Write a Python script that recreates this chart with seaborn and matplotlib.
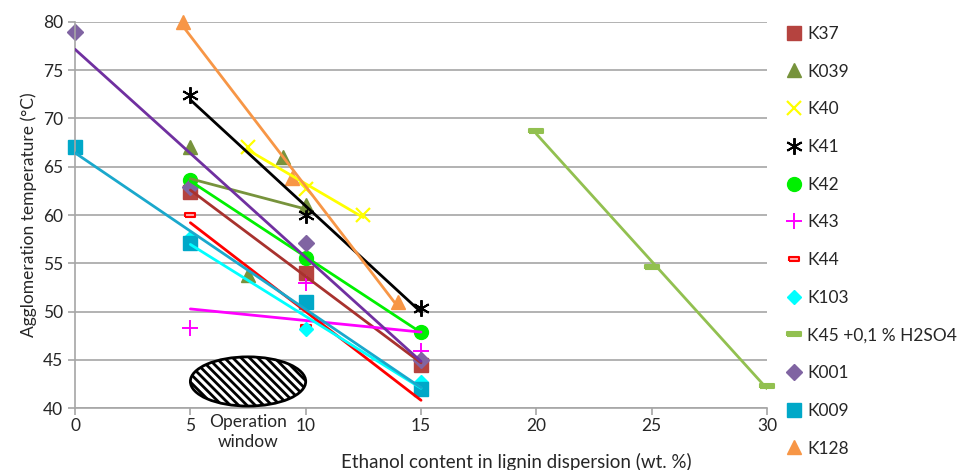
#!/usr/bin/env python3
"""Agglomeration temperature vs ethanol content, with linear trend lines."""
import matplotlib
matplotlib.use("Agg")
import matplotlib.pyplot as plt
from matplotlib.patches import Ellipse
import seaborn as sns

# ethanol content (wt. %) and agglomeration temperature (degC) per sample
k37_x = [5, 10, 15]
k37_y = [62.4, 54.0, 44.5]
k039_x = [5, 7.5, 9, 10]
k039_y = [67.0, 53.8, 66.0, 61.0]
k40_x = [7.5, 10, 12.5]
k40_y = [67.0, 62.7, 60.0]
k41_x = [5, 10, 15]
k41_y = [72.4, 60.0, 50.4]
k42_x = [5, 10, 15]
k42_y = [63.6, 55.5, 47.9]
k43_x = [5, 10, 15]
k43_y = [48.3, 53.0, 45.9]
k44_x = [5, 10, 15]
k44_y = [60.0, 48.4, 41.6]
k103_x = [5, 10, 15]
k103_y = [57.6, 48.2, 42.7]
k45_x = [20, 25, 30]
k45_y = [68.7, 54.6, 42.3]
k001_x = [0, 5, 10, 15]
k001_y = [79.0, 62.9, 57.1, 45.0]
k009_x = [0, 5, 10, 15]
k009_y = [67.0, 57.1, 51.0, 42.0]
k128_x = [4.7, 9.4, 14.0]
k128_y = [80.0, 63.8, 51.0]

x_ticks = [0, 5, 10, 15, 20, 25, 30]
y_ticks = [40, 45, 50, 55, 60, 65, 70, 75, 80]

dash_small = [(-1, -0.45), (1, -0.45), (1, 0.45), (-1, 0.45), (-1, -0.45)]
dash_thin = [(-1, -0.25), (1, -0.25), (1, 0.25), (-1, 0.25), (-1, -0.25)]

# label, x, y, marker style, trend line colour
series = [
    ("K37", k37_x, k37_y, dict(marker="s", ms=10, mfc="#B5433F", mec="#B5433F"), "#A8322E"),
    ("K039", k039_x, k039_y, dict(marker="^", ms=10, mfc="#77933C", mec="#77933C"), "#77933C"),
    ("K40", k40_x, k40_y, dict(marker="x", ms=10, mec="#FFFF00", mew=1.6), "#FFFF00"),
    ("K41", k41_x, k41_y, dict(marker=(6, 2, 0), ms=12, mec="black", mew=1.4), "black"),
    ("K42", k42_x, k42_y, dict(marker="o", ms=10, mfc="#00F000", mec="#00F000"), "#00F000"),
    ("K43", k43_x, k43_y, dict(marker="+", ms=11, mec="#FF00FF", mew=1.4), "#FF00FF"),
    ("K44", k44_x, k44_y, dict(marker=dash_small, ms=7, mfc="#FFB0B0", mec="#FF0000", mew=1.5), "#FF0000"),
    ("K103", k103_x, k103_y, dict(marker="D", ms=7, mfc="#00FFFF", mec="#00FFFF"), "#00FFFF"),
    ("K45 +0,1 % H2SO4", k45_x, k45_y, dict(marker=dash_thin, ms=10, mfc="#92C050", mec="#92C050", mew=1.5), "#92C050"),
    ("K001", k001_x, k001_y, dict(marker="D", ms=8, mfc="#8064A2", mec="#8064A2"), "#7030A0"),
    ("K009", k009_x, k009_y, dict(marker="s", ms=10, mfc="#00A8C8", mec="#00A8C8"), "#1AA8CC"),
    ("K128", k128_x, k128_y, dict(marker="^", ms=10, mfc="#F79646", mec="#F79646"), "#F79646"),
]

sns.set_style("white")
plt.rcParams["font.family"] = ["Lato", "DejaVu Sans"]
plt.rcParams["hatch.linewidth"] = 2.0

fig = plt.figure(figsize=(9.57, 4.7), dpi=100)
ax = fig.add_axes([0.0784, 0.1319, 0.7231, 0.8213])

handles = []
for label, xs, ys, style, line_color in series:
    sns.regplot(x=xs, y=ys, ax=ax, scatter=False, ci=None, truncate=True,
                color=line_color, line_kws=dict(lw=2, zorder=3))
    h, = ax.plot(xs, ys, linestyle="none", label=label, zorder=2, clip_on=False, **style)
    handles.append(h)

# operation window
ax.add_patch(Ellipse((7.5, 42.75), 5.0, 5.1, facecolor="white", edgecolor="black",
                     lw=2, hatch="\\\\\\\\", zorder=4))
ax.text(7.5, -0.062, "Operation\nwindow", transform=ax.get_xaxis_transform(),
        ha="center", va="center", fontsize=12.5, linespacing=1.3)

ax.set_xlim(0, 30)
ax.set_ylim(40, 80)
ax.set_xticks(x_ticks)
ax.set_yticks(y_ticks)
ax.yaxis.grid(True, color="#A6A6A6", lw=1.2)
ax.set_axisbelow(True)
for side in ["top", "right"]:
    ax.spines[side].set_visible(False)
for side in ["left", "bottom"]:
    ax.spines[side].set_color("#A6A6A6")
    ax.spines[side].set_linewidth(1.2)
ax.tick_params(axis="both", length=5, color="#A6A6A6", width=1.2, labelsize=12.5,
               bottom=True, left=True)
ax.tick_params(axis="x", pad=2)
ax.set_xlabel("Ethanol content in lignin dispersion (wt. %)", fontsize=13.5, va="center")
ax.xaxis.set_label_coords(0.637, -0.14)
ax.set_ylabel("Agglomeration temperature (°C)", fontsize=12.5, labelpad=4)

fig.legend(handles=handles, loc="upper left", bbox_to_anchor=(0.822, 0.945),
           frameon=False, fontsize=12.5, labelspacing=1.25, handlelength=0.9,
           handletextpad=0.3, borderpad=0, borderaxespad=0)

fig.savefig("out.png", dpi=100)
